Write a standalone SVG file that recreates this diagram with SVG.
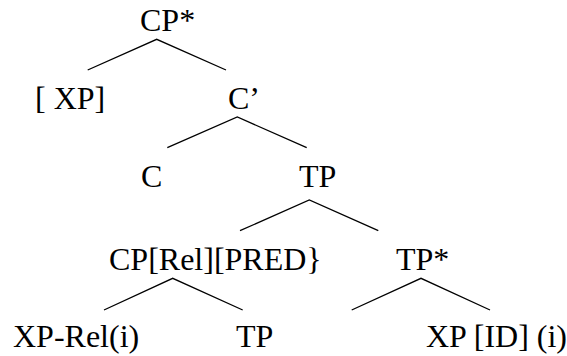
<svg xmlns="http://www.w3.org/2000/svg" width="567" height="356" viewBox="0 0 567 356">
<style>
.t{font-family:'Liberation Serif','Times New Roman',Times,serif;font-size:32px;fill:#000}
.e{stroke:#000;stroke-width:1.3;fill:none}
</style>
<rect width="567" height="356" fill="#fff"/>
<g id="connectors">
<path class="e" d="M87.7,70 L156.7,39.3 L226,70"/>
<path class="e" d="M167.3,147.7 L237.3,117 L306.7,147.7"/>
<path class="e" d="M240,230.7 L309.3,200 L378.3,230.7"/>
<path class="e" d="M104,310 L172.7,278.3 L242.7,310"/>
<path class="e" d="M351.7,310 L421,278.3 L490,310"/>
</g>
<g class="t">
<g id="n-cpstar"><text x="140" y="30.7">CP*</text></g>
<g id="n-xp"><text x="35" y="109">[ XP]</text></g>
<g id="n-cbar"><text x="228" y="109">C’</text></g>
<g id="n-c"><text x="141" y="186.7">C</text></g>
<g id="n-tp1"><text x="299" y="186.7">TP</text></g>
<g id="n-cprel"><text x="109" y="270">CP[Rel][PRED}</text></g>
<g id="n-tpstar"><text x="396" y="270">TP*</text></g>
<g id="n-xprel"><text x="13" y="346.7">XP-Rel(i)</text></g>
<g id="n-tp2"><text x="236" y="346.7">TP</text></g>
<g id="n-xpid"><text x="426" y="346.7">XP [ID] (i)</text></g>
</g>
</svg>
